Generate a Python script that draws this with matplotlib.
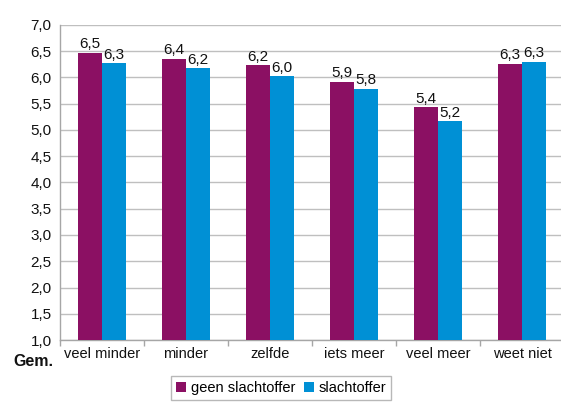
import matplotlib
matplotlib.use("Agg")
import matplotlib.pyplot as plt
import numpy as np
from matplotlib.patches import Patch

categories = ["veel minder", "minder", "zelfde", "iets meer", "veel meer", "weet niet"]
series_names = ["geen slachtoffer", "slachtoffer"]
geen_slachtoffer = [6.47, 6.36, 6.24, 5.92, 5.44, 6.26]
slachtoffer = [6.27, 6.18, 6.02, 5.79, 5.17, 6.30]
yticks = [1.0, 1.5, 2.0, 2.5, 3.0, 3.5, 4.0, 4.5, 5.0, 5.5, 6.0, 6.5, 7.0]

purple = "#8B1063"
blue = "#0090D5"

plt.rcParams['font.family'] = ['Liberation Sans', 'DejaVu Sans']
FS_NUM = 11
FS_TXT = 10.5

W, H = 561, 403
fig = plt.figure(figsize=(W / 100, H / 100), dpi=100)
ax = fig.add_axes([60 / W, 63 / H, 504 / W, 315 / H])

x = np.arange(len(categories))
bw = 24 / 84
b1 = ax.bar(x - bw / 2, geen_slachtoffer, width=bw, color=purple, zorder=3)
b2 = ax.bar(x + bw / 2, slachtoffer, width=bw, color=blue, zorder=3)

def fmt(v):
    return f"{v:.1f}".replace(".", ",")

for bars, vals in ((b1, geen_slachtoffer), (b2, slachtoffer)):
    for r, v in zip(bars, vals):
        ax.annotate(fmt(v), (r.get_x() + r.get_width() / 2, v),
                    xytext=(0, 1), textcoords="offset points",
                    ha="center", va="bottom", fontsize=FS_NUM, color="#111111")

ax.set_xlim(-0.5, len(categories) - 0.5)
ax.set_ylim(1.0, 7.0)
ax.set_yticks(yticks)
ax.set_yticklabels([fmt(v) for v in yticks], fontsize=FS_NUM, color="#111111")
ax.set_xticks(x)
ax.set_xticklabels(categories, fontsize=FS_TXT, color="#111111")
ax.set_xticks(np.arange(-0.5, len(categories), 1.0), minor=True)
ax.tick_params(axis="x", which="major", length=0, pad=5)
ax.tick_params(axis="x", which="minor", length=4, color="#A6A6A6", width=1)
ax.tick_params(axis="y", length=0, pad=6)

ax.yaxis.grid(True, color="#BFBFBF", linewidth=1, zorder=0)
ax.set_axisbelow(True)
for s in ("top", "right"):
    ax.spines[s].set_visible(False)
for s in ("left", "bottom"):
    ax.spines[s].set_color("#A6A6A6")
    ax.spines[s].set_linewidth(1)

fig.text(13 / W, 1 - 362 / H, "Gem.", fontsize=11.5, fontweight="bold",
         ha="left", va="center", color="#111111")

handles = [Patch(facecolor=purple, edgecolor="none"), Patch(facecolor=blue, edgecolor="none")]
leg = fig.legend(handles, series_names, loc="upper left",
                 bbox_to_anchor=(171 / W, 1 - 376 / H), ncol=2, fontsize=FS_TXT,
                 frameon=True, fancybox=False, edgecolor="#A6A6A6",
                 handlelength=0.7, handleheight=0.7, handletextpad=0.3,
                 columnspacing=0.6, borderpad=0.35, borderaxespad=0)
leg.get_frame().set_linewidth(1)

fig.savefig("out.png", dpi=100)
